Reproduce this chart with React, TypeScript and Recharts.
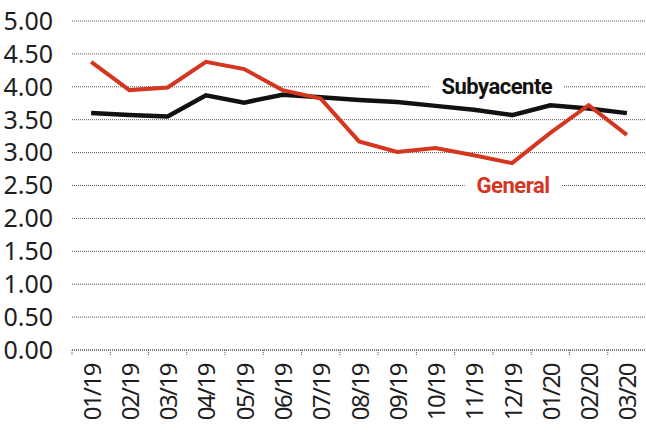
import React from "react";
import {
  LineChart,
  Line,
  XAxis,
  YAxis,
  CartesianGrid,
  ReferenceDot,
} from "recharts";

const months = [
  "01/19", "02/19", "03/19", "04/19", "05/19", "06/19", "07/19", "08/19",
  "09/19", "10/19", "11/19", "12/19", "01/20", "02/20", "03/20",
];
const general = [4.38, 3.95, 3.99, 4.38, 4.27, 3.95, 3.82, 3.17, 3.01, 3.07, 2.96, 2.84, 3.3, 3.72, 3.27];
const subyacente = [3.6, 3.57, 3.55, 3.87, 3.76, 3.88, 3.84, 3.8, 3.77, 3.71, 3.65, 3.57, 3.72, 3.67, 3.6];
const yTicks = [0, 0.5, 1, 1.5, 2, 2.5, 3, 3.5, 4, 4.5, 5];

const data = months.map((m, i) => ({
  month: m,
  general: general[i],
  subyacente: subyacente[i],
}));

const W = 646;
const H = 434;
const Y_AXIS_W = 72;
const BAND = (W - Y_AXIS_W) / months.length;
const RED = "#d5361f";
const FONT = "'Noto Sans', sans-serif";

const XTick = (props: any) => {
  const { x, y, payload } = props;
  return (
    <g>
      <line
        x1={x - BAND / 2}
        x2={x - BAND / 2}
        y1={y - 14}
        y2={y - 8}
        stroke="#555"
        strokeWidth={1}
        strokeDasharray="1 1"
      />
      <text
        transform={`translate(${x},${y}) rotate(-90)`}
        textAnchor="end"
        dominantBaseline="central"
        fontSize={24}
        fontFamily={FONT}
        letterSpacing={-1.5}
        fill="#1e1e1e"
      >
        {payload.value}
      </text>
    </g>
  );
};

const makeTag =
  (text: string, color: string, dx: number, boxW: number) => (props: any) => {
    const { cx, cy } = props;
    return (
      <g>
        <rect x={cx + dx - boxW / 2} y={cy - 14} width={boxW} height={28} fill="#fff" />
        <text
          x={cx + dx}
          y={cy}
          textAnchor="middle"
          dominantBaseline="central"
          fontSize={22}
          fontWeight={700}
          fontFamily="Roboto, sans-serif"
          letterSpacing={-0.5}
          fill={color}
        >
          {text}
        </text>
      </g>
    );
  };

export default function App() {
  return (
    <div style={{ width: W, height: H }}>
      <style>{`body{margin:0;background:#fff}`}</style>
      <LineChart
        width={W}
        height={H}
        data={data}
        margin={{ top: 21, right: 0, bottom: 0, left: 0 }}
      >
        <CartesianGrid vertical={false} stroke="#555" strokeDasharray="1 1" />
        <XAxis
          dataKey="month"
          scale="band"
          height={84}
          tickSize={0}
          tickMargin={14}
          tickLine={false}
          axisLine={{ stroke: "#555", strokeDasharray: "1 1" }}
          interval={0}
          tick={<XTick />}
        />
        <YAxis
          width={Y_AXIS_W}
          domain={[0, 5]}
          ticks={yTicks}
          interval={0}
          tickFormatter={(v: number) => v.toFixed(2)}
          axisLine={false}
          tickLine={false}
          tickSize={0}
          tickMargin={19}
          tick={{ fill: "#1e1e1e", fontSize: 25, fontFamily: FONT }}
        />
        <Line
          dataKey="subyacente"
          stroke="#111"
          strokeWidth={4.5}
          dot={false}
          isAnimationActive={false}
        />
        <Line
          dataKey="general"
          stroke={RED}
          strokeWidth={4}
          dot={false}
          isAnimationActive={false}
        />
        <ReferenceDot
          x="11/19"
          y={4}
          r={0}
          shape={makeTag("Subyacente", "#111", 23, 133)}
        />
        <ReferenceDot
          x="12/19"
          y={2.5}
          r={0}
          shape={makeTag("General", RED, 1, 97)}
        />
      </LineChart>
    </div>
  );
}
